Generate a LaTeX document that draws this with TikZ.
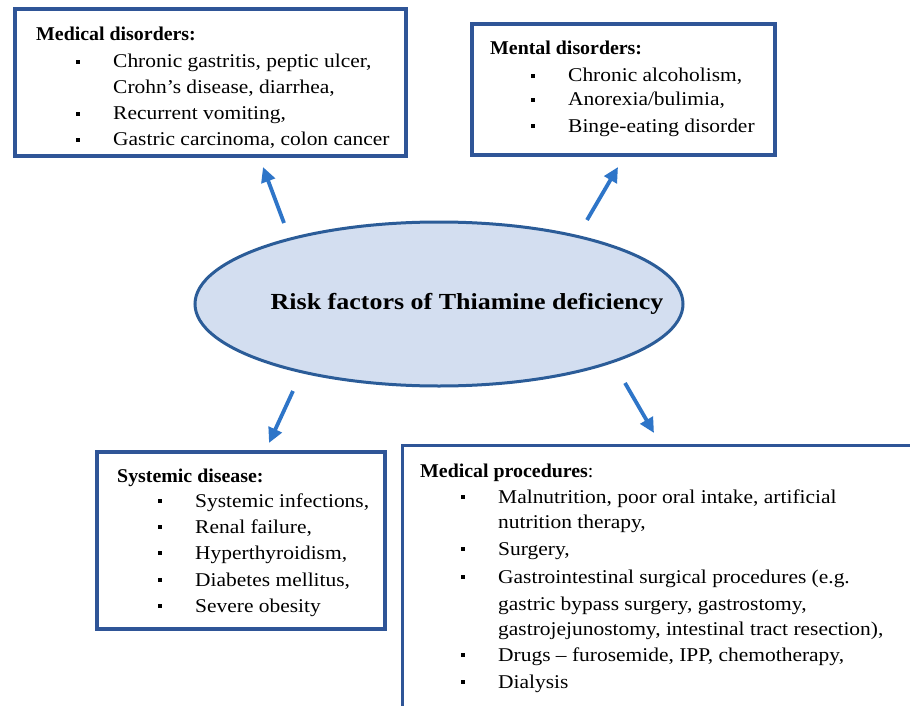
\documentclass[tikz,border=0pt]{standalone}
\usepackage{fontspec}
\setmainfont{Liberation Serif}[FakeStretch=1.10]
\newfontfamily\hdrfont{Liberation Serif}[FakeStretch=1.02]
\newfontfamily\ttlfont{Liberation Serif}[FakeStretch=1.13]
\usetikzlibrary{arrows.meta,shapes.geometric}
\definecolor{boxblue}{HTML}{2F5597}
\definecolor{arrblue}{HTML}{2E75C8}
\definecolor{ellfill}{HTML}{D3DEF0}
\definecolor{ellline}{HTML}{2B5C98}
\tikzset{
  frame/.style={draw=boxblue, line width=3.2pt},
  txt/.style={anchor=base west, inner sep=0pt, font=\fontsize{19.5}{22}\selectfont},
  hdr/.style={txt, font=\fontsize{19.5}{22}\selectfont\hdrfont\bfseries},
  bul/.style={fill=black, minimum size=4.8pt, inner sep=0pt},
  arr/.style={draw=arrblue, line width=3.8pt, -{Triangle[length=15pt,width=14pt]}},
}
\begin{document}
\begin{tikzpicture}[x=1pt,y=-1pt]
\useasboundingbox (0,0) rectangle (910,706);
\fill[white] (0,0) rectangle (910,706);

% Box 1
\draw[frame] (15,9) rectangle (406,156);
\node[hdr] (h1) at (36,41) {Medical disorders:};
\node[bul] (b11) at (78,62) {};
\node[txt] (t11) at (113,68) {Chronic gastritis, peptic ulcer,};
\node[txt] (t12) at (113,94) {Crohn’s disease, diarrhea,};
\node[bul] (b12) at (78,114) {};
\node[txt] (t13) at (113,120) {Recurrent vomiting,};
\node[bul] (b13) at (78,140) {};
\node[txt] (t14) at (113,146) {Gastric carcinoma, colon cancer};

% Box 2
\draw[frame] (472,24) rectangle (775,155);
\node[hdr] (h2) at (490,55) {Mental disorders:};
\node[bul] (b21) at (533,76) {};
\node[txt] (t21) at (568,82) {Chronic alcoholism,};
\node[bul] (b22) at (533,100) {};
\node[txt] (t22) at (568,106) {Anorexia/bulimia,};
\node[bul] (b23) at (533,126) {};
\node[txt] (t23) at (568,132) {Binge-eating disorder};

% Ellipse
\node[ellipse, draw=ellline, fill=ellfill, line width=3pt,
      minimum width=488pt, minimum height=164pt, inner sep=0pt] (c) at (439,304) {};
\node[anchor=base, inner sep=0pt, font=\fontsize{23}{26}\selectfont\ttlfont\bfseries] (title) at (467,309) {Risk factors of Thiamine deficiency};

% Box 3
\draw[frame] (97,452) rectangle (385,629);
\node[hdr] (h3) at (117,482) {Systemic disease:};
\node[bul] (b31) at (160,501) {};
\node[txt] (t31) at (195,507) {Systemic infections,};
\node[bul] (b32) at (160,527) {};
\node[txt] (t32) at (195,533) {Renal failure,};
\node[bul] (b33) at (160,553) {};
\node[txt] (t33) at (195,559) {Hyperthyroidism,};
\node[bul] (b34) at (160,580) {};
\node[txt] (t34) at (195,586) {Diabetes mellitus,};
\node[bul] (b35) at (160,606) {};
\node[txt] (t35) at (195,612) {Severe obesity};

% Box 4 (runs past the right and bottom edges)
\begin{scope}
\clip (0,0) rectangle (910,706);
\draw[frame, line width=3pt] (402,445) rectangle (930,730);
\end{scope}
\node[hdr] (h4) at (420,477) {Medical procedures\textmd{:}};
\node[bul] (b41) at (463,497) {};
\node[txt] (t41) at (498,503) {Malnutrition, poor oral intake, artificial};
\node[txt] (t42) at (498,528) {nutrition therapy,};
\node[bul] (b42) at (463,549) {};
\node[txt] (t43) at (498,555) {Surgery,};
\node[bul] (b43) at (463,577) {};
\node[txt] (t44) at (498,583) {Gastrointestinal surgical procedures (e.g.};
\node[txt] (t45) at (498,610) {gastric bypass surgery, gastrostomy,};
\node[txt] (t46) at (498,635) {gastrojejunostomy, intestinal tract resection),};
\node[bul] (b44) at (463,655) {};
\node[txt] (t47) at (498,661) {Drugs – furosemide, IPP, chemotherapy,};
\node[bul] (b45) at (463,682) {};
\node[txt] (t48) at (498,688) {Dialysis};

% Arrows
\coordinate (a1s) at (284,223);
\coordinate (a1e) at (263,167);
\coordinate (a2s) at (587,220);
\coordinate (a2e) at (618,167);
\coordinate (a3s) at (293,391);
\coordinate (a3e) at (269,443);
\coordinate (a4s) at (625,383);
\coordinate (a4e) at (654,433);
\draw[arr] (a1s) -- (a1e);
\draw[arr] (a2s) -- (a2e);
\draw[arr] (a3s) -- (a3e);
\draw[arr] (a4s) -- (a4e);
\end{tikzpicture}
\end{document}
